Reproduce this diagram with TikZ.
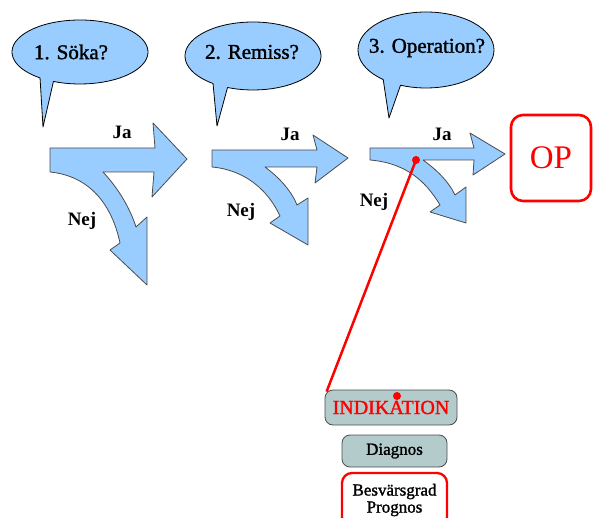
\documentclass[tikz,border=0pt]{standalone}
\usepackage{fontspec}
\setmainfont{Liberation Serif}
\newfontfamily\heavyserif{Liberation Serif}[FakeBold=1.4]
\usetikzlibrary{calc}
\definecolor{arrowblue}{HTML}{99CCFF}
\definecolor{boxgray}{HTML}{B3CCCB}
\definecolor{hred}{HTML}{FF0000}
\tikzstyle{bubble} = [
    fill=arrowblue,
    draw=black,
    line width=0.8pt,
    line join=round
    ]
\tikzstyle{splitarrow} = [
    fill=arrowblue,
    draw=black!70,
    line width=0.8pt,
    line join=round
    ]
\tikzstyle{question} = [inner sep=0pt, font=\heavyserif\fontsize{21}{23}\selectfont]
\tikzstyle{answer} = [inner sep=0pt, font=\fontsize{19}{21}\selectfont\bfseries]
\tikzstyle{graybox} = [
    rectangle,
    rounded corners=8pt,
    fill=boxgray,
    draw=black!70,
    line width=0.8pt,
    inner sep=0pt
    ]
\tikzstyle{redbox} = [
    rectangle,
    rounded corners=12pt,
    draw=hred,
    fill=white,
    line width=2.6pt,
    inner sep=0pt
    ]
\tikzstyle{pin} = [circle, fill=hred, inner sep=0pt, minimum size=8pt]

\begin{document}
\begin{tikzpicture}[x=1pt, y=-1pt]
\useasboundingbox (0,0) rectangle (594,518);

% speech bubbles
\coordinate (b1) at (80,52);
\coordinate (b2) at (253,56);
\coordinate (b3) at (426,50);
\draw[bubble] ($(b1)+(126:68 and 32)$) arc[start angle=126, end angle=473, x radius=68, y radius=32] -- (43,127) -- cycle;
\draw[bubble] ($(b2)+(126:68 and 34)$) arc[start angle=126, end angle=472, x radius=68, y radius=34] -- (217,126) -- cycle;
\draw[bubble] ($(b3)+(129:68 and 38)$) arc[start angle=129, end angle=472, x radius=68, y radius=38] -- (389,118) -- cycle;
\node[question] (q1) at (71,52) {1. Söka?};
\node[question] (q2) at (252,52) {2. Remiss?};
\node[question] (q3) at (427,48) {3. Operation?};

% split arrows
\draw[splitarrow] (50,148) -- (155,148) -- (153,123) -- (187,159) -- (152,197) -- (154,172)
    -- (103,172) .. controls (118,188) and (130,208) .. (136,227) -- (147,217) -- (147,285)
    -- (110,250) -- (120,243) .. controls (112,205) and (90,176) .. (50,172) -- cycle;
\draw[splitarrow] (212,150) -- (317,150) -- (313,135) -- (348,158) -- (315,183) -- (317,167)
    -- (265,167) .. controls (280,178) and (292,192) .. (297,205) -- (308,198) -- (308,245)
    -- (270,223) -- (280,216) .. controls (268,190) and (245,170) .. (212,167) -- cycle;
\draw[splitarrow] (370,148) -- (474,148) -- (470,133) -- (505,154) -- (473,175) -- (474,160)
    -- (423,160) .. controls (437,170) and (449,182) .. (455,195) -- (466,187) -- (466,223)
    -- (430,212) -- (440,205) .. controls (425,180) and (405,163) .. (370,160) -- cycle;

\node[answer] (ja1) at (122,132) {Ja};
\node[answer] (ja2) at (290,134) {Ja};
\node[answer] (ja3) at (442,134) {Ja};
\node[answer] (nej1) at (82,221) {Nej};
\node[answer] (nej2) at (241,212) {Nej};
\node[answer] (nej3) at (374,202) {Nej};

% OP
\node[redbox, minimum width=80pt, minimum height=86pt, text=hred,
    font=\fontsize{33}{36}\selectfont] (op) at (551,158) {OP};

% boxes below
\node[graybox, minimum width=132pt, minimum height=35pt, text=hred,
    font=\heavyserif\fontsize{20}{22}\selectfont] (ind) at (391,407.5) {INDIKATION};
\node[graybox, minimum width=105pt, minimum height=32pt,
    font=\heavyserif\fontsize{17}{19}\selectfont] (diag) at (394.5,451) {Diagnos};
\node[redbox, rounded corners=10pt, line width=2.3pt, minimum width=105pt, minimum height=54pt,
    align=center, font=\heavyserif\fontsize{17}{17}\selectfont] (besv) at (394.5,500) {Besvärsgrad\\Prognos};

\node[pin] (dot) at (416,160) {};
\node[pin] (kdot) at (397,396) {};
\draw[hred, line width=2.5pt] (dot.center) -- ($(ind.north west)+(2,2)$);
\end{tikzpicture}
\end{document}
